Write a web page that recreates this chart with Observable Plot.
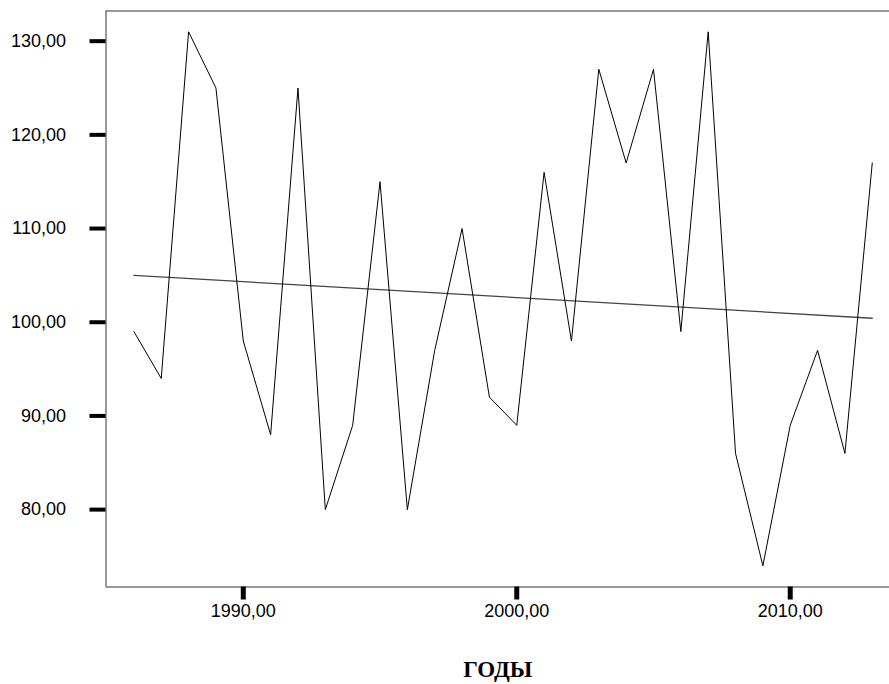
<!DOCTYPE html>
<html>
<head>
<meta charset="utf-8">
<script src="https://cdn.jsdelivr.net/npm/d3@7"></script>
<script src="https://cdn.jsdelivr.net/npm/@observablehq/plot@0.6"></script>
<style>
  html, body { margin: 0; padding: 0; background: #fff; }
</style>
</head>
<body>
<div id="chart"></div>
<script>
const years = [1986, 1987, 1988, 1989, 1990, 1991, 1992, 1993, 1994, 1995,
               1996, 1997, 1998, 1999, 2000, 2001, 2002, 2003, 2004, 2005,
               2006, 2007, 2008, 2009, 2010, 2011, 2012, 2013];
const values = [99, 94, 131, 125, 98, 88, 125, 80, 89, 115,
                80, 97, 110, 92, 89, 116, 98, 127, 117, 127,
                99, 131, 86, 74, 89, 97, 86, 117];
const xTicks = [1990, 2000, 2010];
const yTicks = [80, 90, 100, 110, 120, 130];
const xTitle = "ГОДЫ";

const xDomain = [1984.98, 2013.63];
const yDomain = [71.74, 133.22];

const data = years.map((y, i) => ({year: y, value: values[i]}));
const fmt = d => d3.format(".2f")(d).replace(".", ",");

const chart = Plot.plot({
  width: 889,
  height: 684,
  marginTop: 10.5,
  marginLeft: 105.5,
  marginRight: 0,
  marginBottom: 97.5,
  style: {fontFamily: "'Liberation Sans', Arial, sans-serif", fontSize: "18px", background: "#fff", color: "#000"},
  x: {domain: xDomain},
  y: {domain: yDomain},
  marks: [
    Plot.ruleY([yDomain[1]], {stroke: "#777", strokeWidth: 1.5}),
    Plot.ruleY([yDomain[0]], {stroke: "#777", strokeWidth: 1.5}),
    Plot.ruleX([xDomain[0]], {stroke: "#777", strokeWidth: 1.5}),
    Plot.axisY({ticks: yTicks, tickSize: 16, tickPadding: 24, strokeWidth: 4, stroke: "#000",
                tickFormat: fmt, fontSize: 18, label: null}),
    Plot.axisX({ticks: xTicks, tickSize: 13, tickPadding: 4, strokeWidth: 5, stroke: "#000",
                tickFormat: fmt, fontSize: 18, label: null}),
    Plot.linearRegressionY(data, {x: "year", y: "value", ci: 0, stroke: "#444", strokeWidth: 1.3}),
    Plot.line(data, {x: "year", y: "value", stroke: "#000", strokeWidth: 1}),
    Plot.text([xTitle], {frameAnchor: "bottom", dy: 83, fontSize: 23, fontWeight: "bold",
                         fontFamily: "'Liberation Serif', 'Times New Roman', serif", lineAnchor: "middle", fill: "#000"})
  ]
});
document.getElementById("chart").appendChild(chart);
</script>
</body>
</html>
